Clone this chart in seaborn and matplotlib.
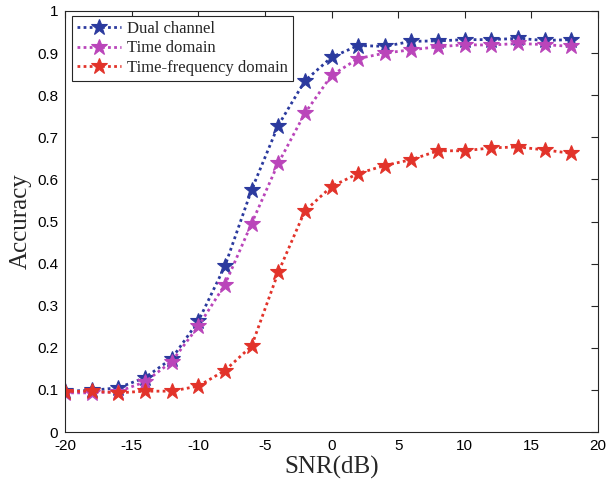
import numpy as np
import pandas as pd
import matplotlib
matplotlib.use("Agg")
import matplotlib.pyplot as plt
import seaborn as sns

snr = [-20, -18, -16, -14, -12, -10, -8, -6, -4, -2, 0, 2, 4, 6, 8, 10, 12, 14, 16, 18]
dual_channel = [0.097, 0.099, 0.105, 0.129, 0.174, 0.263, 0.394, 0.575, 0.728, 0.834, 0.890,
                0.918, 0.916, 0.928, 0.929, 0.932, 0.932, 0.935, 0.930, 0.932]
time_domain = [0.093, 0.093, 0.096, 0.119, 0.167, 0.251, 0.350, 0.495, 0.638, 0.757, 0.847,
               0.887, 0.900, 0.908, 0.915, 0.920, 0.919, 0.923, 0.920, 0.916]
time_freq = [0.096, 0.097, 0.093, 0.097, 0.097, 0.109, 0.146, 0.204, 0.379, 0.525, 0.583,
             0.614, 0.633, 0.647, 0.668, 0.668, 0.675, 0.677, 0.670, 0.662]
series_names = ["Dual channel", "Time domain", "Time-frequency domain"]
colors = ["#2B3A9E", "#BA45BA", "#E2332A"]
x_ticks = [-20, -15, -10, -5, 0, 5, 10, 15, 20]
y_ticks = [0, 0.1, 0.2, 0.3, 0.4, 0.5, 0.6, 0.7, 0.8, 0.9, 1]
y_tick_labels = ["0", "0.1", "0.2", "0.3", "0.4", "0.5", "0.6", "0.7", "0.8", "0.9", "1"]

df = pd.DataFrame({
    "SNR": snr * 3,
    "Accuracy": dual_channel + time_domain + time_freq,
    "Method": [series_names[0]] * len(snr) + [series_names[1]] * len(snr) + [series_names[2]] * len(snr),
})

sns.set_style("white")
plt.rcParams["font.family"] = ["Liberation Sans", "DejaVu Sans"]

fig = plt.figure(figsize=(6.09, 4.91), dpi=100)
ax = fig.add_axes([65 / 609, (491 - 432) / 491, (598 - 65) / 609, (432 - 11) / 491])

sns.lineplot(data=df, x="SNR", y="Accuracy", hue="Method", hue_order=series_names,
             palette=colors, ax=ax, linestyle=(0, (1, 1.2)), linewidth=2.0,
             marker="*", markersize=12, markeredgewidth=0.8, legend=False)
for line, c in zip(ax.lines, colors):
    line.set_markeredgecolor(c)
    line.set_markerfacecolor(c)

ax.set_xlim(-20, 20)
ax.set_ylim(0, 1)
ax.set_xticks(x_ticks)
ax.set_xticklabels([str(t) for t in x_ticks])
ax.set_yticks(y_ticks)
ax.set_yticklabels(y_tick_labels)
ax.tick_params(direction="in", length=5, width=0.8, color="#262626", labelsize=11,
               top=True, right=True, labelcolor="black", pad=5)
for sp in ax.spines.values():
    sp.set_visible(True)
    sp.set_color("#262626")
    sp.set_linewidth(0.8)

serif = ["Liberation Serif", "DejaVu Serif"]
ax.set_xlabel("SNR(dB)", fontsize=18, family=serif, labelpad=2)
ax.set_ylabel("Accuracy", fontsize=18, family=serif, labelpad=4)

handles = ax.lines[:3]
leg = ax.legend(handles, series_names, loc="upper left", bbox_to_anchor=(0.014, 0.988),
                prop={"family": serif, "size": 12}, frameon=True, fancybox=False,
                borderpad=0.3, labelspacing=0.2, handlelength=2.6, handletextpad=0.4,
                borderaxespad=0.0, framealpha=1.0)
leg.set_zorder(1)
leg.get_frame().set_edgecolor("#262626")
leg.get_frame().set_linewidth(0.8)

fig.savefig("out.png", dpi=100, facecolor="white")
